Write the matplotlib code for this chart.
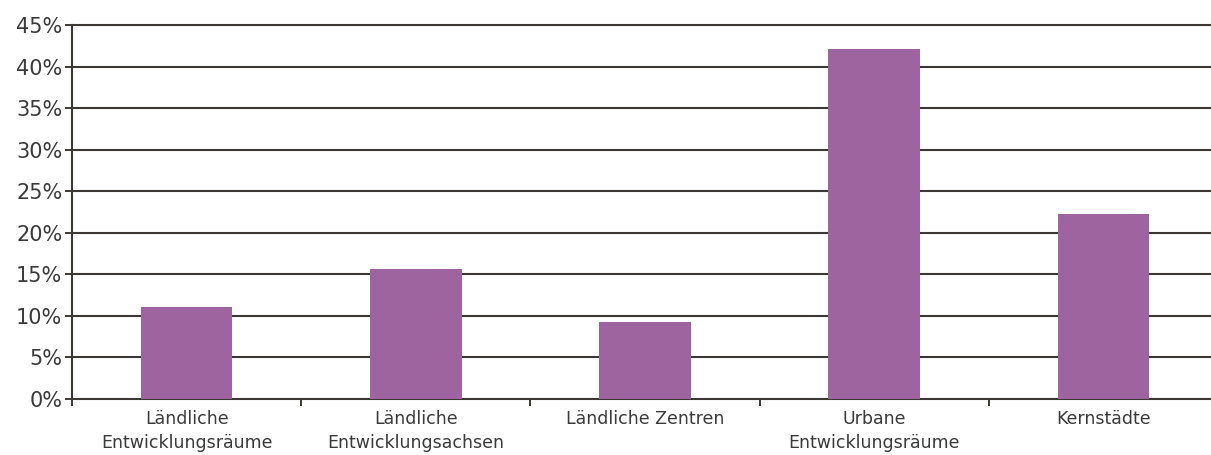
import matplotlib
matplotlib.use("Agg")
import matplotlib.pyplot as plt
from matplotlib.ticker import FixedLocator

categories = ["Ländliche\nEntwicklungsräume", "Ländliche\nEntwicklungsachsen",
              "Ländliche Zentren", "Urbane\nEntwicklungsräume", "Kernstädte"]
values = [11.1, 15.7, 9.3, 42.1, 22.3]
yticks = [0, 5, 10, 15, 20, 25, 30, 35, 40, 45]
ytick_labels = [f"{v}%" for v in yticks]

plt.rcParams['font.family'] = ['DejaVu Sans']
W, H = 1211, 455
fig = plt.figure(figsize=(W / 100, H / 100), dpi=100)
left, right, top, bottom = 72, 1218, 25, 399
ax = fig.add_axes([left / W, (H - bottom) / H, (right - left) / W, (bottom - top) / H])

x = list(range(len(categories)))
ax.bar(x, values, width=0.4, color="#9e64a0", zorder=3)

ax.set_xlim(-0.5, len(categories) - 0.5)
ax.set_ylim(0, 45)
ax.set_yticks(yticks)
ax.set_yticklabels(ytick_labels, fontsize=15, color="#3a3a3a")
ax.set_xticks(x)
ax.set_xticklabels(categories, fontsize=12.5, color="#3a3a3a", linespacing=1.4)
ax.xaxis.set_minor_locator(FixedLocator([i + 0.5 for i in range(-1, len(categories))]))
ax.tick_params(axis="x", which="major", length=0, pad=8)
ax.tick_params(axis="x", which="minor", length=5, width=1.4, color="#3c3834", direction="out")
ax.tick_params(axis="y", length=5, width=1.4, color="#3c3834", direction="out", pad=2)

for v in yticks[1:]:
    ax.axhline(v, color="#3c3834", lw=1.5, zorder=1, clip_on=False)

for s in ["top", "right"]:
    ax.spines[s].set_visible(False)
for s in ["left", "bottom"]:
    ax.spines[s].set_color("#3c3834")
    ax.spines[s].set_linewidth(1.5)

fig.savefig("out.png", dpi=100)
